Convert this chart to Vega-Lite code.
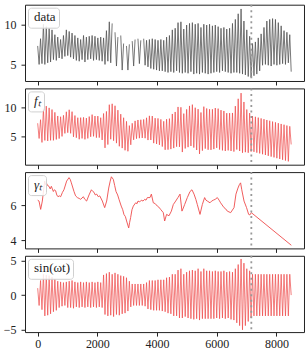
{
"$schema": "https://vega.github.io/schema/vega-lite/v6.json",
"padding": {"left": 2, "top": 2.7, "right": 0, "bottom": 0},
"autosize": {"type": "pad"},
"bounds": "flush",
"spacing": 6.7,
"datasets": {
"ts": [
{"t":0,"s":1.0,"f":7.3,"d":7.3},{"t":48,"s":-1.5,"f":4.72,"d":5.0},{"t":96,"s":2.1,"f":7.9,"d":8.2},{"t":144,"s":-2.1,"f":4.05,"d":5.1},
{"t":192,"s":3.0,"f":9.77,"d":10.0},{"t":240,"s":-3.0,"f":4.39,"d":5.0},{"t":288,"s":2.9,"f":10.2,"d":9.7},{"t":336,"s":-2.9,"f":4.3,"d":5.2},
{"t":384,"s":2.8,"f":9.9,"d":9.5},{"t":432,"s":-2.7,"f":4.4,"d":5.3},{"t":480,"s":2.6,"f":9.62,"d":9.3},{"t":528,"s":-2.4,"f":4.4,"d":5.6},
{"t":576,"s":2.3,"f":9.14,"d":8.7},{"t":624,"s":-2.2,"f":4.55,"d":5.5},{"t":672,"s":2.0,"f":8.53,"d":8.4},{"t":720,"s":-1.8,"f":4.7,"d":5.8},
{"t":768,"s":1.9,"f":8.4,"d":8.1},{"t":816,"s":-1.6,"f":5.07,"d":5.7},{"t":864,"s":1.8,"f":8.64,"d":8.6},{"t":912,"s":-1.5,"f":5.58,"d":6.0},
{"t":960,"s":1.9,"f":9.24,"d":9.3},{"t":1008,"s":-1.8,"f":5.7,"d":6.1},{"t":1056,"s":2.0,"f":9.58,"d":9.1},{"t":1104,"s":-1.8,"f":5.59,"d":5.9},
{"t":1152,"s":2.1,"f":9.26,"d":8.9},{"t":1200,"s":-1.9,"f":5.0,"d":5.7},{"t":1248,"s":1.9,"f":8.6,"d":8.6},{"t":1296,"s":-1.7,"f":4.85,"d":5.5},
{"t":1344,"s":1.8,"f":8.24,"d":8.3},{"t":1392,"s":-1.8,"f":4.59,"d":5.4},{"t":1440,"s":1.9,"f":8.25,"d":8.1},{"t":1488,"s":-1.7,"f":4.73,"d":5.6},
{"t":1536,"s":1.8,"f":8.29,"d":8.6},{"t":1584,"s":-1.8,"f":4.57,"d":5.3},{"t":1632,"s":1.9,"f":8.17,"d":8.4},{"t":1680,"s":-1.7,"f":4.73,"d":5.6},
{"t":1728,"s":1.8,"f":8.43,"d":8.5},{"t":1776,"s":-1.8,"f":5.01,"d":5.7},{"t":1824,"s":1.9,"f":8.76,"d":8.6},{"t":1872,"s":-1.7,"f":5.08,"d":5.5},
{"t":1920,"s":1.8,"f":8.52,"d":8.5},{"t":1968,"s":-1.8,"f":4.86,"d":5.6},{"t":2016,"s":1.9,"f":8.51,"d":8.3},{"t":2064,"s":-1.7,"f":4.87,"d":5.5},
{"t":2112,"s":1.8,"f":8.24,"d":8.4},{"t":2160,"s":-1.8,"f":4.47,"d":5.4},{"t":2208,"s":2.9,"f":8.95,"d":8.3},{"t":2256,"s":-2.8,"f":3.13,"d":5.0},
{"t":2304,"s":3.1,"f":9.3,"d":9.2},{"t":2352,"s":-3.0,"f":3.69,"d":5.4},{"t":2400,"s":3.3,"f":10.44,"d":10.3},{"t":2448,"s":-2.9,"f":4.59,"d":5.2},
{"t":2496,"s":3.0,"f":10.59,"d":10.1},{"t":2544,"s":-3.1,"f":4.34,"d":null},{"t":2592,"s":3.2,"f":10.26,"d":9.0},{"t":2640,"s":-2.8,"f":3.93,"d":4.8},
{"t":2688,"s":3.0,"f":9.52,"d":8.4},{"t":2736,"s":-2.9,"f":3.4,"d":null},{"t":2784,"s":2.8,"f":8.84,"d":8.6},{"t":2832,"s":-2.7,"f":3.09,"d":4.3},
{"t":2880,"s":2.7,"f":8.23,"d":7.6},{"t":2928,"s":-2.6,"f":2.72,"d":null},{"t":2976,"s":2.5,"f":7.62,"d":7.3},{"t":3024,"s":-2.3,"f":2.55,"d":4.3},
{"t":3072,"s":2.0,"f":6.9,"d":7.5},{"t":3120,"s":-1.7,"f":3.65,"d":null},{"t":3168,"s":1.6,"f":7.29,"d":7.9},{"t":3216,"s":-1.5,"f":4.49,"d":4.8},
{"t":3264,"s":1.6,"f":7.7,"d":8.1},{"t":3312,"s":-1.5,"f":4.69,"d":null},{"t":3360,"s":1.6,"f":7.85,"d":8.2},{"t":3408,"s":-1.5,"f":4.77,"d":5.1},
{"t":3456,"s":1.6,"f":7.89,"d":8.0},{"t":3504,"s":-1.5,"f":4.81,"d":null},{"t":3552,"s":1.6,"f":7.94,"d":8.2},{"t":3600,"s":-1.6,"f":4.77,"d":4.9},
{"t":3648,"s":1.8,"f":8.22,"d":8.0},{"t":3696,"s":-2.0,"f":4.45,"d":4.7},{"t":3744,"s":2.1,"f":8.55,"d":8.1},{"t":3792,"s":-2.1,"f":4.47,"d":4.5},
{"t":3840,"s":2.1,"f":8.52,"d":8.2},{"t":3888,"s":-2.2,"f":3.93,"d":4.4},{"t":3936,"s":2.1,"f":8.16,"d":8.1},{"t":3984,"s":-2.2,"f":3.79,"d":4.3},
{"t":4032,"s":2.2,"f":8.12,"d":8.0},{"t":4080,"s":-2.2,"f":3.64,"d":4.2},{"t":4128,"s":2.2,"f":7.95,"d":8.1},{"t":4176,"s":-2.3,"f":3.35,"d":4.2},
{"t":4224,"s":2.2,"f":7.63,"d":8.0},{"t":4272,"s":-2.4,"f":2.8,"d":4.1},{"t":4320,"s":2.5,"f":7.98,"d":8.4},{"t":4368,"s":-2.6,"f":2.83,"d":4.0},
{"t":4416,"s":2.6,"f":8.08,"d":8.6},{"t":4464,"s":-2.7,"f":2.92,"d":4.1},{"t":4512,"s":3.0,"f":8.87,"d":9.3},{"t":4560,"s":-3.0,"f":3.09,"d":4.0},
{"t":4608,"s":3.0,"f":9.21,"d":9.5},{"t":4656,"s":-3.0,"f":3.33,"d":4.2},{"t":4704,"s":3.6,"f":10.06,"d":10.2},{"t":4752,"s":-3.3,"f":3.3,"d":4.0},
{"t":4800,"s":3.8,"f":10.0,"d":10.3},{"t":4848,"s":-3.3,"f":2.42,"d":3.9},{"t":4896,"s":3.0,"f":8.93,"d":9.4},{"t":4944,"s":-3.1,"f":3.03,"d":4.0},
{"t":4992,"s":3.3,"f":9.65,"d":9.9},{"t":5040,"s":-3.3,"f":3.25,"d":3.9},{"t":5088,"s":3.5,"f":10.23,"d":10.1},{"t":5136,"s":-3.4,"f":3.45,"d":4.1},
{"t":5184,"s":3.6,"f":10.45,"d":10.2},{"t":5232,"s":-3.5,"f":3.18,"d":3.8},{"t":5280,"s":3.5,"f":9.93,"d":10.0},{"t":5328,"s":-3.4,"f":2.77,"d":3.9},
{"t":5376,"s":3.8,"f":9.69,"d":10.1},{"t":5424,"s":-3.6,"f":2.1,"d":3.8},{"t":5472,"s":3.4,"f":9.12,"d":9.6},{"t":5520,"s":-3.4,"f":2.66,"d":4.0},
{"t":5568,"s":3.8,"f":10.11,"d":10.0},{"t":5616,"s":-3.4,"f":3.0,"d":3.9},{"t":5664,"s":3.5,"f":9.8,"d":9.9},{"t":5712,"s":-3.4,"f":2.81,"d":3.8},
{"t":5760,"s":3.5,"f":9.67,"d":10.0},{"t":5808,"s":-3.4,"f":2.79,"d":3.9},{"t":5856,"s":3.4,"f":9.66,"d":9.8},{"t":5904,"s":-3.4,"f":2.92,"d":4.0},
{"t":5952,"s":3.5,"f":9.87,"d":9.9},{"t":6000,"s":-3.3,"f":3.13,"d":4.1},{"t":6048,"s":3.4,"f":9.77,"d":9.7},{"t":6096,"s":-3.4,"f":2.84,"d":4.0},
{"t":6144,"s":3.4,"f":9.52,"d":9.5},{"t":6192,"s":-3.3,"f":2.7,"d":4.2},{"t":6240,"s":3.5,"f":9.38,"d":9.6},{"t":6288,"s":-3.4,"f":2.6,"d":4.1},
{"t":6336,"s":3.3,"f":9.0,"d":9.4},{"t":6384,"s":-3.3,"f":2.7,"d":4.0},{"t":6432,"s":3.4,"f":9.01,"d":9.5},{"t":6480,"s":-3.5,"f":2.6,"d":3.9},
{"t":6528,"s":3.3,"f":9.04,"d":10.1},{"t":6576,"s":-3.6,"f":2.5,"d":4.0},{"t":6624,"s":3.8,"f":10.2,"d":10.6},{"t":6672,"s":-4.0,"f":2.85,"d":4.0},
{"t":6720,"s":4.4,"f":11.44,"d":11.3},{"t":6768,"s":-4.4,"f":2.6,"d":3.9},{"t":6816,"s":5.2,"f":12.4,"d":11.9},{"t":6864,"s":-5.0,"f":2.3,"d":3.8},
{"t":6912,"s":4.6,"f":10.9,"d":10.4},{"t":6960,"s":-4.4,"f":2.4,"d":3.7},{"t":7008,"s":3.8,"f":9.62,"d":9.3},{"t":7056,"s":-3.8,"f":2.3,"d":3.5},
{"t":7104,"s":3.5,"f":9.02,"d":8.5},{"t":7152,"s":-3.3,"f":2.5,"d":3.4},{"t":7200,"s":3.0,"f":8.52,"d":7.6},{"t":7248,"s":-3.0,"f":2.46,"d":3.6},
{"t":7296,"s":3.0,"f":8.39,"d":7.8},{"t":7344,"s":-3.0,"f":2.32,"d":3.8},{"t":7392,"s":3.0,"f":8.25,"d":8.3},{"t":7440,"s":-3.0,"f":2.19,"d":4.2},
{"t":7488,"s":3.0,"f":8.12,"d":8.8},{"t":7536,"s":-3.0,"f":2.05,"d":4.9},{"t":7584,"s":3.0,"f":7.99,"d":9.6},{"t":7632,"s":-3.0,"f":1.92,"d":5.0},
{"t":7680,"s":3.0,"f":7.85,"d":10.4},{"t":7728,"s":-3.0,"f":1.78,"d":4.9},{"t":7776,"s":3.0,"f":7.72,"d":10.6},{"t":7824,"s":-3.0,"f":1.65,"d":4.8},
{"t":7872,"s":3.0,"f":7.58,"d":10.7},{"t":7920,"s":-3.0,"f":1.52,"d":5.0},{"t":7968,"s":3.0,"f":7.45,"d":10.6},{"t":8016,"s":-3.0,"f":1.38,"d":4.9},
{"t":8064,"s":3.0,"f":7.31,"d":10.2},{"t":8112,"s":-3.0,"f":1.25,"d":5.0},{"t":8160,"s":3.0,"f":7.18,"d":9.8},{"t":8208,"s":-3.0,"f":1.11,"d":5.1},
{"t":8256,"s":3.0,"f":7.05,"d":9.2},{"t":8304,"s":-3.0,"f":0.98,"d":5.0},{"t":8352,"s":3.0,"f":6.91,"d":9.0},{"t":8400,"s":-3.0,"f":0.84,"d":5.2},
{"t":8448,"s":3.0,"f":6.78,"d":8.7},{"t":8496,"s":0.0,"f":3.71,"d":4.1}
],
"gam": [
{"t":0,"g":6.3},{"t":45,"g":6.25},{"t":100,"g":5.77},{"t":156,"g":6.25},{"t":200,"g":6.9},{"t":235,"g":7.4},{"t":260,"g":7.2},{"t":290,"g":7.3},{"t":330,"g":7.15},{"t":380,"g":7.1},{"t":420,"g":6.95},{"t":458,"g":7.1},
{"t":525,"g":6.8},{"t":560,"g":6.9},{"t":600,"g":6.85},{"t":640,"g":6.6},{"t":680,"g":6.5},{"t":725,"g":6.55},{"t":770,"g":6.5},{"t":830,"g":6.75},{"t":880,"g":6.9},{"t":970,"g":7.4},{"t":1050,"g":7.6},{"t":1090,"g":7.5},{"t":1128,"g":7.3},
{"t":1217,"g":6.8},{"t":1270,"g":6.55},{"t":1330,"g":6.45},{"t":1390,"g":6.4},{"t":1440,"g":6.35},{"t":1530,"g":6.5},{"t":1580,"g":6.35},{"t":1640,"g":6.25},{"t":1720,"g":6.6},{"t":1800,"g":6.9},{"t":1850,"g":6.8},{"t":1890,"g":6.75},
{"t":1930,"g":6.6},{"t":1977,"g":6.65},{"t":2030,"g":6.5},{"t":2080,"g":6.55},{"t":2167,"g":6.25},{"t":2245,"g":5.87},{"t":2312,"g":6.25},{"t":2380,"g":7.0},{"t":2430,"g":7.4},{"t":2470,"g":7.65},{"t":2535,"g":7.5},
{"t":2580,"g":7.15},{"t":2625,"g":6.8},{"t":2680,"g":6.6},{"t":2725,"g":6.35},{"t":2800,"g":5.96},{"t":2850,"g":5.75},{"t":2890,"g":5.48},{"t":2940,"g":5.35},{"t":2980,"g":5.1},{"t":3050,"g":4.7},{"t":3080,"g":5.0},{"t":3115,"g":5.3},{"t":3160,"g":5.75},{"t":3205,"g":5.96},
{"t":3284,"g":6.15},{"t":3330,"g":6.1},{"t":3362,"g":6.25},{"t":3420,"g":6.2},{"t":3474,"g":6.3},{"t":3530,"g":6.25},{"t":3585,"g":6.35},{"t":3630,"g":6.3},{"t":3675,"g":6.45},{"t":3764,"g":6.45},{"t":3810,"g":6.65},{"t":3875,"g":6.15},
{"t":3940,"g":6.1},{"t":4010,"g":5.96},{"t":4060,"g":5.9},{"t":4120,"g":5.77},{"t":4210,"g":5.58},{"t":4255,"g":5.1},{"t":4320,"g":5.48},{"t":4400,"g":5.4},{"t":4480,"g":5.67},{"t":4545,"g":6.05},
{"t":4625,"g":6.25},{"t":4700,"g":6.45},{"t":4770,"g":6.65},{"t":4835,"g":5.67},{"t":4880,"g":5.85},{"t":4925,"g":6.05},{"t":5015,"g":6.45},{"t":5105,"g":6.8},{"t":5170,"g":6.9},
{"t":5240,"g":6.65},{"t":5300,"g":6.35},{"t":5350,"g":6.05},{"t":5440,"g":5.48},{"t":5518,"g":6.05},{"t":5595,"g":6.45},{"t":5640,"g":6.3},{"t":5685,"g":6.25},{"t":5775,"g":6.15},{"t":5830,"g":6.25},{"t":5886,"g":6.3},
{"t":5950,"g":6.35},{"t":6020,"g":6.45},{"t":6080,"g":6.3},{"t":6130,"g":6.15},{"t":6245,"g":5.87},{"t":6300,"g":5.8},{"t":6355,"g":5.67},{"t":6467,"g":5.58},{"t":6580,"g":5.87},{"t":6645,"g":6.65},{"t":6712,"g":7.0},
{"t":6760,"g":7.2},{"t":6800,"g":7.3},{"t":6840,"g":6.9},{"t":6915,"g":6.25},{"t":7000,"g":5.87},{"t":7070,"g":5.48},{"t":7110,"g":5.45},{"t":7160,"g":5.58},{"t":8500,"g":3.7}
],
"cut": [{"t":7160}]
},
"config": {
"font": "Liberation Serif",
"view": {"stroke": "#222222", "strokeWidth": 1},
"axis": {"labelFont": "Liberation Serif", "labelFontSize": 12, "labelColor": "#222222", "tickColor": "#222222", "tickSize": 4, "labelPadding": 5, "domain": false, "grid": false},
"legend": {"orient": "top-left", "offset": 3, "padding": 3, "strokeColor": "#d0d0d0", "fillColor": "rgba(255,255,255,0.85)", "cornerRadius": 3, "symbolSize": 0, "symbolOpacity": 0, "symbolStrokeWidth": 0, "labelOffset": 0, "labelFont": "Liberation Serif", "labelFontSize": 13, "labelColor": "#222222", "labelBaseline": "middle"}
},
"resolve": {"scale": {"x": "independent", "y": "independent", "color": "independent"}, "legend": {"color": "independent"}},
"vconcat": [
{
"width": 279, "height": 76.3,
"layer": [
{"data": {"name": "ts"}, "mark": {"type": "line", "strokeWidth": 0.8, "invalid": "break-paths-show-domains"},
 "encoding": {
  "x": {"field": "t", "type": "quantitative", "title": null, "scale": {"domain": [-425, 8925], "nice": false, "zero": false}, "axis": {"values": [0,2000,4000,6000,8000], "labels": false}},
  "y": {"field": "d", "type": "quantitative", "title": null, "scale": {"domain": [2.94, 12.43], "nice": false, "zero": false}, "axis": {"values": [5, 10]}},
  "color": {"datum": "data", "type": "nominal", "scale": {"range": ["#555555"]}, "legend": {"title": null, "symbolType": "circle", "symbolSize": 0, "symbolStrokeWidth": 0, "labelOffset": -10}}
 }},
{"data": {"name": "cut"}, "mark": {"type": "rule", "color": "#999999", "strokeDash": [2, 3.5], "strokeWidth": 1.8}, "encoding": {"x": {"field": "t", "type": "quantitative"}}}
]
},
{
"width": 279, "height": 76.3,
"layer": [
{"data": {"name": "ts"}, "mark": {"type": "line", "strokeWidth": 0.8, "opacity": 0.9},
 "encoding": {
  "x": {"field": "t", "type": "quantitative", "title": null, "scale": {"domain": [-425, 8925], "nice": false, "zero": false}, "axis": {"values": [0,2000,4000,6000,8000], "labels": false}},
  "y": {"field": "f", "type": "quantitative", "title": null, "scale": {"domain": [0.28, 13.2], "nice": false, "zero": false}, "axis": {"values": [5, 10]}},
  "color": {"datum": "fₜ", "type": "nominal", "scale": {"range": ["#ee4b4b"]}, "legend": {"title": null, "labelFontStyle": "italic", "symbolType": "circle", "symbolSize": 0, "symbolStrokeWidth": 0, "labelOffset": -10}}
 }},
{"data": {"name": "cut"}, "mark": {"type": "rule", "color": "#999999", "strokeDash": [2, 3.5], "strokeWidth": 1.8}, "encoding": {"x": {"field": "t", "type": "quantitative"}}}
]
},
{
"width": 279, "height": 76.3,
"layer": [
{"data": {"name": "gam"}, "mark": {"type": "line", "strokeWidth": 1, "opacity": 0.9},
 "encoding": {
  "x": {"field": "t", "type": "quantitative", "title": null, "scale": {"domain": [-425, 8925], "nice": false, "zero": false}, "axis": {"values": [0,2000,4000,6000,8000], "labels": false}},
  "y": {"field": "g", "type": "quantitative", "title": null, "scale": {"domain": [3.52, 7.92], "nice": false, "zero": false}, "axis": {"values": [4, 6]}},
  "color": {"datum": "γₜ", "type": "nominal", "scale": {"range": ["#ee4b4b"]}, "legend": {"title": null, "labelFontStyle": "italic", "symbolType": "circle", "symbolSize": 0, "symbolStrokeWidth": 0, "labelOffset": -10}}
 }},
{"data": {"name": "cut"}, "mark": {"type": "rule", "color": "#999999", "strokeDash": [2, 3.5], "strokeWidth": 1.8}, "encoding": {"x": {"field": "t", "type": "quantitative"}}}
]
},
{
"width": 279, "height": 76.3,
"layer": [
{"data": {"name": "ts"}, "mark": {"type": "line", "strokeWidth": 0.8, "opacity": 0.9},
 "encoding": {
  "x": {"field": "t", "type": "quantitative", "title": null, "scale": {"domain": [-425, 8925], "nice": false, "zero": false}, "axis": {"values": [0,2000,4000,6000,8000], "format": "d", "labelPadding": 2.5}},
  "y": {"field": "s", "type": "quantitative", "title": null, "scale": {"domain": [-5.33, 5.66], "nice": false, "zero": false}, "axis": {"values": [-5, 0, 5]}},
  "color": {"datum": "sin(ωt)", "type": "nominal", "scale": {"range": ["#ee4b4b"]}, "legend": {"title": null, "symbolType": "circle", "symbolSize": 0, "symbolStrokeWidth": 0, "labelOffset": -10}}
 }},
{"data": {"name": "cut"}, "mark": {"type": "rule", "color": "#999999", "strokeDash": [2, 3.5], "strokeWidth": 1.8}, "encoding": {"x": {"field": "t", "type": "quantitative"}}}
]
}
]
}
